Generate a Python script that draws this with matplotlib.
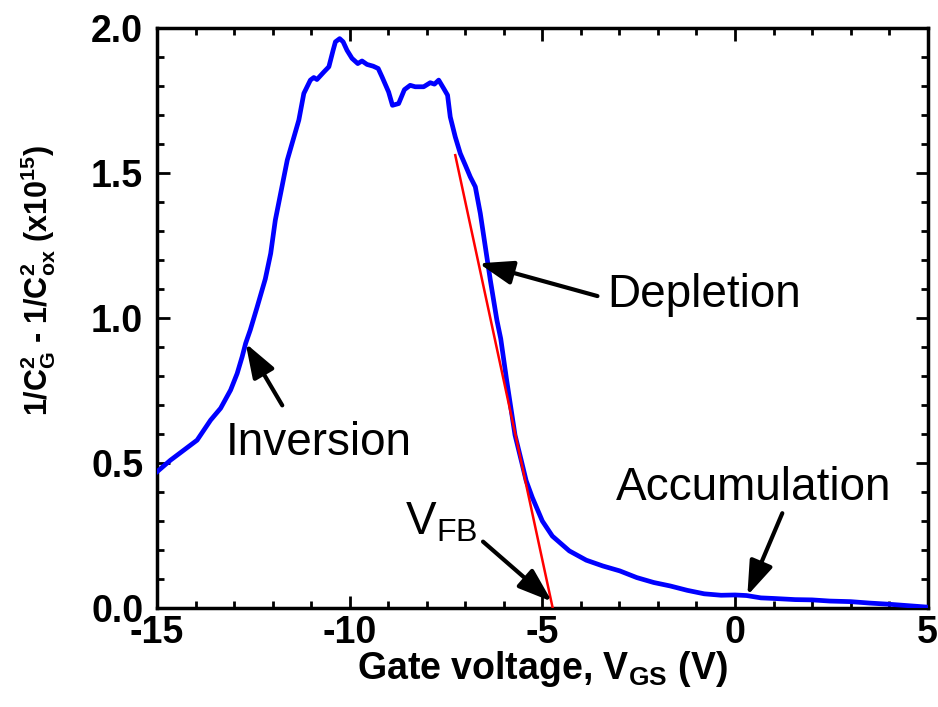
import numpy as np
import matplotlib
matplotlib.use('Agg')
import matplotlib.pyplot as plt

plt.rcParams['font.family'] = ['Liberation Sans', 'DejaVu Sans']
plt.rcParams['mathtext.fontset'] = 'custom'
plt.rcParams['mathtext.rm'] = 'Liberation Sans'
plt.rcParams['mathtext.it'] = 'Liberation Sans:italic'
plt.rcParams['mathtext.bf'] = 'Liberation Sans:bold'

# measured curve (gate voltage in V, 1/C^2 - 1/Cox^2 in 1e15)
vgs = [-15.0, -14.65, -14.30, -13.96, -13.61, -13.35, -13.09, -12.92, -12.79, -12.70,
       -12.58, -12.40, -12.19, -12.05, -11.93, -11.62, -11.32, -11.19, -11.02, -10.93, -10.85,
       -10.67, -10.54, -10.43, -10.37, -10.26, -10.17, -10.07, -9.94, -9.79, -9.68,
       -9.55, -9.39, -9.26, -9.16, -8.99, -8.89, -8.73, -8.58, -8.43, -8.30,
       -8.08, -7.91, -7.80, -7.69, -7.56, -7.46, -7.39, -7.26, -7.13, -7.00,
       -6.87, -6.74, -6.61, -6.48, -6.35, -6.18, -6.08, -5.93, -5.71, -5.54,
       -5.42, -5.26, -5.00, -4.74, -4.30, -3.86, -3.43, -2.99, -2.55, -2.11,
       -1.68, -1.24, -0.80, -0.36, 0.0, 0.30, 0.67, 1.0, 1.56, 2.0,
       2.46, 3.0, 3.5, 4.0, 4.5, 5.0]
inv_c2 = [0.471, 0.511, 0.546, 0.580, 0.649, 0.690, 0.753, 0.810, 0.868, 0.914,
          0.960, 1.040, 1.136, 1.224, 1.339, 1.546, 1.684, 1.776, 1.822, 1.831, 1.824,
          1.850, 1.868, 1.925, 1.954, 1.965, 1.954, 1.925, 1.897, 1.879, 1.888,
          1.876, 1.870, 1.862, 1.833, 1.781, 1.735, 1.741, 1.789, 1.804, 1.799,
          1.799, 1.813, 1.808, 1.822, 1.793, 1.770, 1.695, 1.626, 1.569, 1.529,
          1.488, 1.454, 1.362, 1.247, 1.132, 0.994, 0.930, 0.790, 0.598, 0.506,
          0.440, 0.382, 0.301, 0.249, 0.198, 0.166, 0.146, 0.129, 0.106, 0.089,
          0.077, 0.062, 0.050, 0.045, 0.046, 0.044, 0.036, 0.034, 0.030, 0.029,
          0.025, 0.023, 0.018, 0.014, 0.009, 0.004]

# linear fit in the depletion region
fit_x = [-7.26, -4.73]
fit_y = [1.563, 0.0]

# annotations: label, text position, arrow tail, arrow head
notes = ['Inversion', 'Depletion', 'Accumulation', r'V$_\mathrm{FB}$']
note_pos = [(-13.22, 0.529), (-3.32, 1.039), (-3.08, 0.373), (-8.56, 0.253)]
arrow_tail = [(-11.75, 0.70), (-3.57, 1.077), (1.227, 0.328), (-6.54, 0.23)]
arrow_head = [(-12.70, 0.914), (-6.65, 1.19), (0.32, 0.044), (-4.75, 0.023)]

fig = plt.figure(figsize=(9.38, 7.07), dpi=100)
ax = fig.add_axes([0.1674, 0.1396, 0.8216, 0.8201])

ax.plot(vgs, inv_c2, color='#0000ff', lw=3.4, solid_joinstyle='round', zorder=3)
ax.plot(fit_x, fit_y, color='#ff0000', lw=1.8, zorder=4)

for txt, pos, tail, head in zip(notes, note_pos, arrow_tail, arrow_head):
    ax.text(pos[0], pos[1], txt, fontsize=33, ha='left', va='baseline')
    ax.annotate('', xy=head, xytext=tail,
                arrowprops=dict(arrowstyle='-|>,head_length=0.8,head_width=0.28',
                                mutation_scale=26, color='black', lw=3,
                                shrinkA=0, shrinkB=0), zorder=5)

ax.set_xlim(-15, 5)
ax.set_ylim(0, 2.0)
ax.set_xticks([-15, -10, -5, 0, 5])
ax.set_xticks(np.arange(-15, 5.01, 1), minor=True)
ax.set_yticks([0.0, 0.5, 1.0, 1.5, 2.0])
ax.set_yticks(np.arange(0, 2.001, 0.1), minor=True)
ax.set_yticklabels(['0.0', '0.5', '1.0', '1.5', '2.0'])
ax.set_xticklabels(['-15', '-10', '-5', '0', '5'])

ax.tick_params(which='both', direction='in', top=True, right=True, width=2)
ax.tick_params(which='major', length=9, labelsize=27)
ax.tick_params(which='minor', length=5)
ax.tick_params(axis='y', pad=10)
ax.tick_params(axis='x', pad=5)
for lab in ax.get_xticklabels() + ax.get_yticklabels():
    lab.set_fontweight('bold')
for sp in ax.spines.values():
    sp.set_linewidth(2.5)

ax.set_xlabel(r'Gate voltage, V$_\mathbf{GS}$ (V)', fontsize=27, fontweight='bold')
ax.xaxis.set_label_coords(0.5, -0.07)
ax.xaxis.label.set_va('top')
ax.set_ylabel(r'1/C$_\mathbf{G}^\mathbf{2}$ - 1/C$_\mathbf{ox}^\mathbf{2}$ (x10$^\mathbf{15}$)',
              fontsize=22, fontweight='bold')
ax.yaxis.set_label_coords(-0.128, 0.565)

fig.savefig('out.png', dpi=100)
